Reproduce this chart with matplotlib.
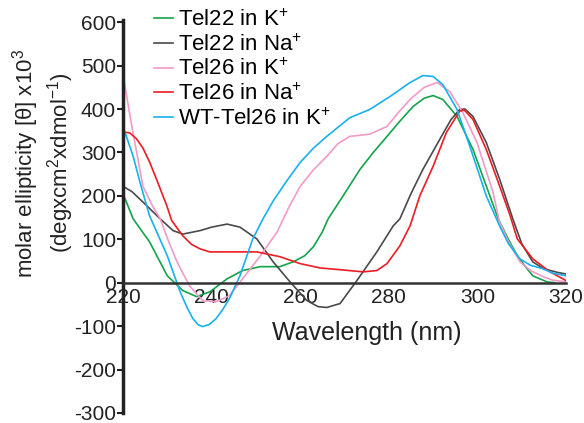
import matplotlib
matplotlib.use("Agg")
import matplotlib.pyplot as plt

plt.rcParams['font.family'] = ['Liberation Sans', 'DejaVu Sans']
plt.rcParams['mathtext.fontset'] = 'custom'
plt.rcParams['mathtext.rm'] = 'Liberation Sans'
plt.rcParams['axes.unicode_minus'] = False

# CD spectra: (wavelength nm, ellipticity x10^3)
wl_tel22_k = [220, 222.3, 226, 230, 233.5, 236.6, 239.6, 243.5, 247, 251, 255.4, 258.4, 261, 263, 265,
              266.3, 270, 273.5, 276.5, 279.6, 282.5, 285.5, 288, 290, 292.2, 295.4, 299, 302, 304.7,
              307, 309, 311, 312.5, 315.7, 317.5]
cd_tel22_k = [205, 147, 94, 16, -18, -32, -21, 9, 28, 37, 37, 48, 62, 83, 117,
              147, 205, 261, 300, 337, 372, 406, 425, 431, 422, 383, 307, 223, 147,
              100, 62, 35, 16, 2, 0]

wl_tel22_na = [220, 222, 225.4, 228.4, 231.3, 233.5, 237.4, 240, 243.5, 246.4, 250.2, 253.9, 257.7,
               261.5, 264, 266, 269, 272.8, 277.3, 281, 282.5, 285, 287.7, 291.5, 294, 296, 297.2,
               299, 302, 305, 308, 310, 312.5, 315, 318, 320]
cd_tel22_na = [222, 210, 177, 147, 120, 112, 120, 128, 135, 128, 101, 48, 2,
               -41, -55, -57, -48, 5, 71, 131, 147, 205, 261, 330, 375, 399, 400,
               383, 323, 239, 147, 90, 48, 32, 24, 20]

wl_tel26_k = [220, 222, 224.5, 226.5, 228.4, 230.3, 232.2, 235, 238, 241, 244, 247, 251, 254.8, 257.5,
              260, 263, 266, 268.5, 271.2, 275.7, 279.6, 282, 284.8, 288, 290.9, 293.8, 296.7, 299.9,
              303.5, 305, 307, 309.6, 312, 314.8, 317, 320]
cd_tel26_k = [479, 360, 222, 180, 147, 95, 48, -7, -41, -44, -30, 9, 62, 117, 175,
              222, 260, 291, 320, 337, 342, 360, 390, 422, 450, 461, 440, 392, 323,
              209, 140, 95, 48, 28, 14, 6, 2]

wl_tel26_na = [220, 221.5, 223, 224.5, 226, 227.5, 229.9, 231, 233.5, 235.5, 237.4, 239.6, 244.8, 250.2,
               255.4, 260, 264.5, 269, 274.2, 277.3, 279.6, 282.5, 284.8, 287, 290, 293, 296, 297,
               299, 302, 305, 307.4, 309, 312.5, 316.4, 320]
cd_tel26_na = [347, 345, 332, 310, 278, 240, 177, 143, 108, 88, 78, 71, 71, 71,
               60, 44, 34, 30, 25, 28, 44, 85, 131, 200, 268, 346, 395, 398,
               376, 307, 223, 154, 101, 55, 25, 5]

wl_wt26_k = [220, 222.3, 224, 226, 228, 230, 232.9, 234.5, 235.8, 237, 238, 239.5, 241, 242.5, 244,
             246.4, 249.3, 251.6, 254, 257, 260, 263, 266, 271.2, 275.7, 280.3, 284.8, 287.7, 290,
             292.2, 295.4, 298.3, 302, 305, 307, 309.6, 312, 314.8, 317, 320]
cd_wt26_k = [360, 291, 225, 154, 108, 62, -21, -58, -83, -97, -101, -96, -83, -62, -37,
             16, 101, 147, 190, 235, 277, 310, 337, 380, 399, 429, 461, 477, 475,
             456, 399, 314, 200, 131, 90, 55, 40, 32, 22, 16]

series = [
    ('Tel22 in K$^{+}$', wl_tel22_k, cd_tel22_k, '#15a34a'),
    ('Tel22 in Na$^{+}$', wl_tel22_na, cd_tel22_na, '#4a4a4a'),
    ('Tel26 in K$^{+}$', wl_tel26_k, cd_tel26_k, '#f29ac8'),
    ('Tel26 in Na$^{+}$', wl_tel26_na, cd_tel26_na, '#ec1c24'),
    ('WT-Tel26 in K$^{+}$', wl_wt26_k, cd_wt26_k, '#18b1ec'),
]

fig = plt.figure(figsize=(5.84, 4.23), dpi=100)
ax = fig.add_axes([123 / 584, 1 - 413 / 423, 443 / 584, (413 - 20) / 423])

for name, x, y, c in series:
    ax.plot(x, y, color=c, lw=1.2, label=name)

ax.set_xlim(220, 320)
ax.set_ylim(-300, 605)
ax.spines['top'].set_visible(False)
ax.spines['right'].set_visible(False)
ax.spines['left'].set_linewidth(2.5)
ax.spines['left'].set_color('#222222')
ax.spines['bottom'].set_position(('data', 0))
ax.spines['bottom'].set_linewidth(1.8)
ax.spines['bottom'].set_color('#333333')
ax.set_xticks([220, 240, 260, 280, 300, 320])
ax.set_yticks(range(-300, 601, 100))
ax.tick_params(axis='y', labelsize=15, length=4, width=1.5, pad=1, colors='#222222')
ax.tick_params(axis='x', labelsize=15, length=0, pad=4, colors='#222222')

fig.text(367 / 584, 1 - 333 / 423, 'Wavelength (nm)', fontsize=18, ha='center', va='center',
         color='#222222')
fig.text(43 / 584, 1 - 163 / 423,
         'molar ellipticity [θ] x10$^{3}$\n(degxcm$^{2}$xdmol$^{-1}$)',
         rotation=90, fontsize=16, ha='center', va='center', multialignment='center',
         linespacing=1.2, color='#222222')

ax.legend(loc='upper left', bbox_to_anchor=(0.05, 1.05), frameon=False, fontsize=16,
          handlelength=0.85, handletextpad=0.25, labelspacing=0.15, borderaxespad=0)

fig.savefig('out.png', dpi=100)
